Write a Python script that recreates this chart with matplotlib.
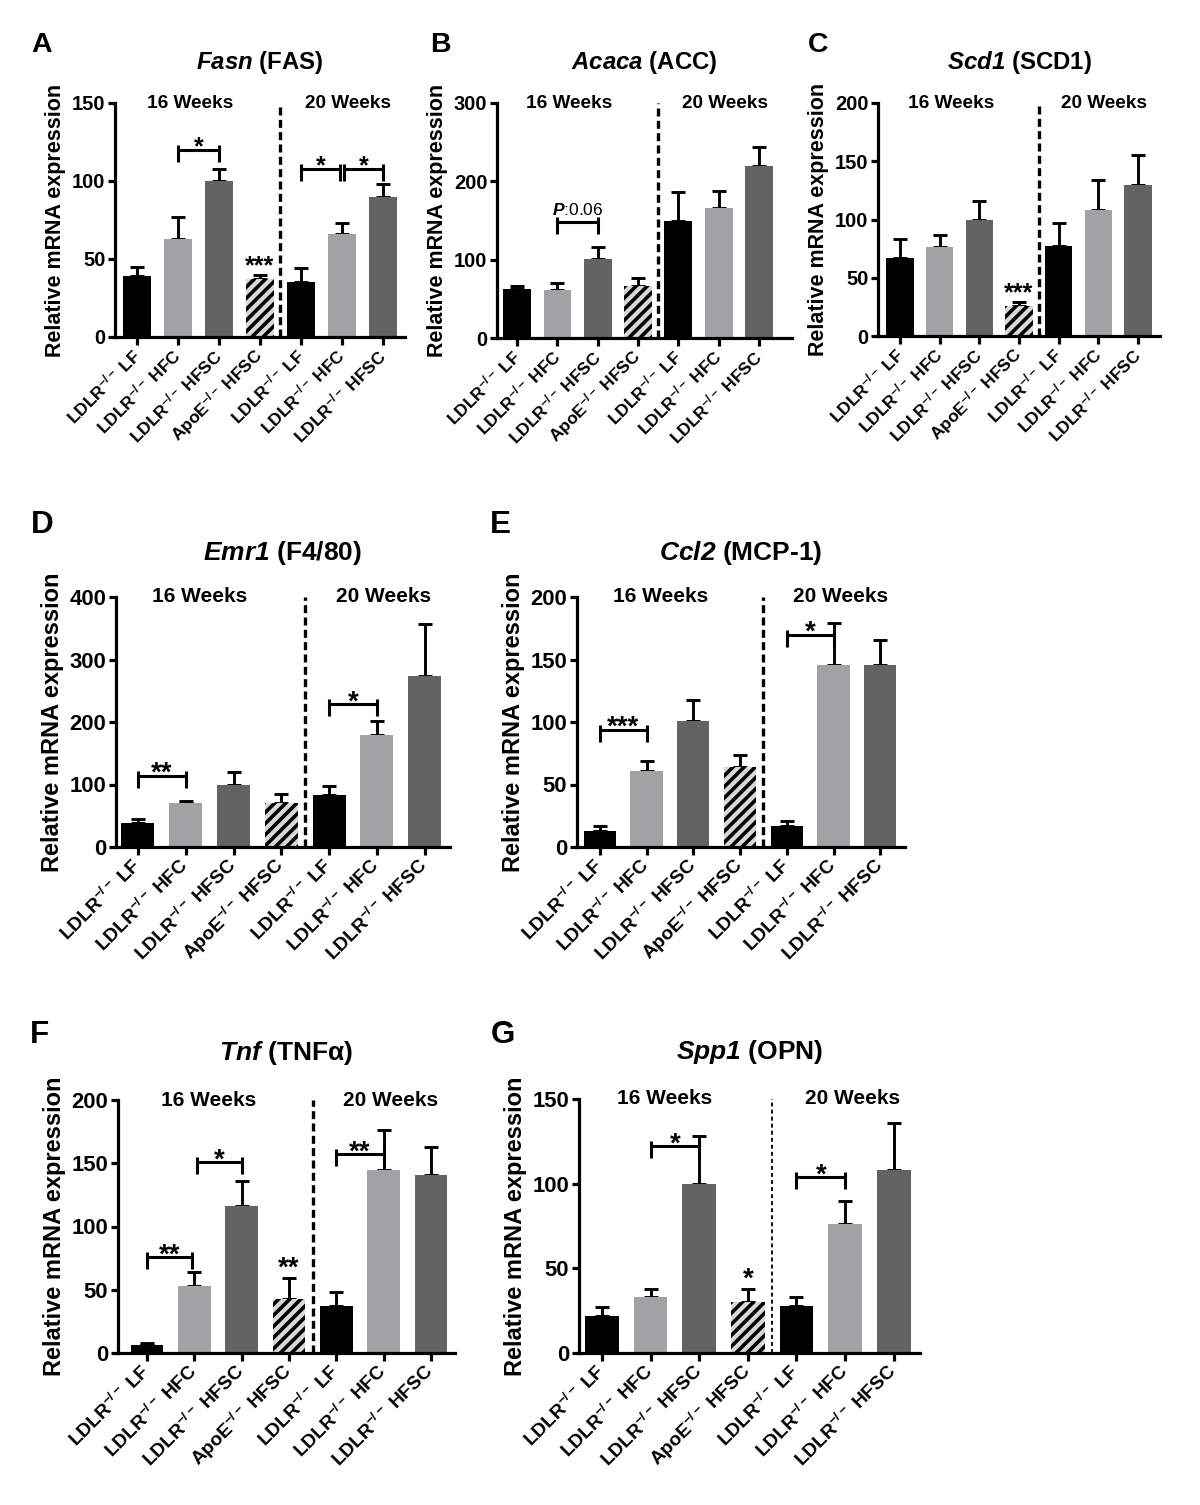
import numpy as np
import matplotlib
matplotlib.use('Agg')
import matplotlib.pyplot as plt

plt.rcParams['font.family'] = ['Liberation Sans', 'DejaVu Sans']
plt.rcParams['font.weight'] = 'bold'
plt.rcParams['mathtext.fontset'] = 'custom'
plt.rcParams['mathtext.rm'] = 'Liberation Sans'
plt.rcParams['mathtext.it'] = 'Liberation Sans:italic'
plt.rcParams['mathtext.bf'] = 'Liberation Sans:bold'
plt.rcParams['mathtext.bfit'] = 'Liberation Sans:italic:bold'
plt.rcParams['hatch.linewidth'] = 2.6
plt.rcParams['hatch.color'] = 'black'

# groups on the x axis (same for every panel)
groups = [r'LDLR$^{-/-}$ LF', r'LDLR$^{-/-}$ HFC', r'LDLR$^{-/-}$ HFSC',
          r'ApoE$^{-/-}$ HFSC', r'LDLR$^{-/-}$ LF', r'LDLR$^{-/-}$ HFC',
          r'LDLR$^{-/-}$ HFSC']
periods = ['16 Weeks', '20 Weeks']

# mean and SEM
fasn_mean = [39, 63, 100, 37, 35, 66, 90]
fasn_sem = [6, 14, 8, 2.5, 9, 7, 8]
acaca_mean = [63, 61, 101, 67, 150, 166, 220]
acaca_sem = [4, 9, 15, 9, 37, 22, 24]
scd1_mean = [67, 76, 100, 26, 77, 108, 130]
scd1_sem = [16, 11, 16, 3, 20, 26, 25]
emr1_mean = [39, 71, 100, 70, 83, 179, 273]
emr1_sem = [6, 3, 20, 15, 15, 23, 84]
ccl2_mean = [13, 61, 101, 64, 17, 146, 146]
ccl2_sem = [4, 8, 17, 10, 4, 33, 20]
tnf_mean = [6.6, 53, 116, 43, 37, 145, 141]
tnf_sem = [1.5, 11, 20, 16, 11, 31, 22]
spp1_mean = [22, 33, 100, 30, 28, 76, 108]
spp1_sem = [5, 5, 28, 8, 5, 14, 28]

# significance brackets (bar i, bar j, height, label) and marks over single bars
fasn_brackets = [(1, 2, 120, '*'), (4, 5, 108, '*'), (5, 6, 108, '*')]
fasn_marks = [(3, '***')]
acaca_brackets = [(1, 2, 148, r'$P$:0.06')]
acaca_marks = []
scd1_brackets = []
scd1_marks = [(3, '***')]
emr1_brackets = [(0, 1, 114, '**'), (4, 5, 229, '*')]
emr1_marks = []
ccl2_brackets = [(0, 1, 94, '***'), (4, 5, 170, '*')]
ccl2_marks = []
tnf_brackets = [(0, 1, 76, '**'), (1, 2, 151, '*'), (4, 5, 157, '**')]
tnf_marks = [(3, '**')]
spp1_brackets = [(1, 2, 122, '*'), (4, 5, 104, '*')]
spp1_marks = [(3, '*')]

bar_colors = ['#000000', '#a2a2a5', '#636363', '#d8d8d8', '#000000', '#a2a2a5', '#636363']

FW, FH = 1200, 1505
fig = plt.figure(figsize=(12, 15.05), dpi=100)


def draw_panel(box, xlim, letter, letter_xy, title, title_y, means, sems, ymax, ystep,
               brackets, marks, s=1.0, thin=False):
    L, T, R, B = box
    ax = fig.add_axes([L / FW, 1 - B / FH, (R - L) / FW, (B - T) / FH])
    upx = ymax / (B - T)  # data units per pixel
    x = np.arange(len(means))
    bars = ax.bar(x, means, width=0.69, color=bar_colors, linewidth=0, zorder=2)
    bars[3].set_hatch('///')
    ax.errorbar(x, means, yerr=[np.zeros(len(sems)), sems], fmt='none', ecolor='black',
                elinewidth=2.1, capsize=4.8 * s, capthick=2.1, zorder=1)

    if thin:
        ax.axvline(3.5, color='black', lw=1.3, ls=(0, (2.2, 1.7)), zorder=3)
    else:
        ax.axvline(3.5, color='black', lw=2.4, ls=(0, (2.4, 1.3)), zorder=3)

    ax.set_xlim(*xlim)
    ax.set_ylim(0, ymax)
    ax.set_yticks(np.arange(0, ymax + 1, ystep))
    ax.set_xticks(x)
    ax.set_xticklabels(groups, rotation=45, ha='right', va='center',
                       rotation_mode='anchor', fontsize=12.5 * s, fontweight='bold')
    for sp in ['top', 'right']:
        ax.spines[sp].set_visible(False)
    for sp in ['left', 'bottom']:
        ax.spines[sp].set_linewidth(2.3)
    ax.tick_params(axis='y', width=2.3, length=5, pad=2, labelsize=14.5 * s)
    ax.tick_params(axis='x', width=2.3, length=6, pad=5)
    ax.set_ylabel('Relative mRNA expression', fontsize=15.5 * s, fontweight='bold', labelpad=4)

    for lab, xp in zip(periods, [1.3, 5.15]):
        ax.text(xp, ymax, lab, ha='center', va='center', fontsize=13.7 * s, fontweight='bold')

    # brackets
    starts = [b[0] for b in brackets]
    ends = [b[1] for b in brackets]
    for i, j, y, lab in brackets:
        x0 = i + (0.05 if i in ends else 0)
        x1 = j - (0.05 if j in starts else 0)
        kw = dict(color='black', lw=2.2, solid_capstyle='butt', clip_on=False)
        ax.plot([x0, x1], [y, y], **kw)
        ax.plot([x0, x0], [y + 5 * upx, y - 12 * upx], **kw)
        ax.plot([x1, x1], [y + 5 * upx, y - 12 * upx], **kw)
        if lab.startswith('$P'):
            ax.annotate(lab, ((x0 + x1) / 2, y), xytext=(0, 3), textcoords='offset points',
                        ha='center', va='bottom', fontsize=12.5 * s, fontweight='normal')
        else:
            ax.annotate(lab, ((x0 + x1) / 2, y), xytext=(0, -3.5 * s), textcoords='offset points',
                        ha='center', va='baseline', fontsize=18 * s, fontweight='bold')
    for k, lab in marks:
        top = means[k] + sems[k]
        ax.annotate(lab, (k, top), xytext=(0, 1.5 * s), textcoords='offset points',
                    ha='center', va='baseline', fontsize=18 * s, fontweight='bold')

    fig.text((L + R) / 2 / FW, 1 - title_y / FH, title, ha='center', va='center',
             fontsize=17.3 * s, fontweight='bold')
    fig.text(letter_xy[0] / FW, 1 - letter_xy[1] / FH, letter, ha='center', va='center',
             fontsize=20.5 * s, fontweight='bold')
    return ax


draw_panel((115, 103, 405, 337), (-0.54, 6.54), 'A', (42, 45), r'$\mathbfit{Fasn}$ (FAS)', 63,
           fasn_mean, fasn_sem, 150, 50, fasn_brackets, fasn_marks)
draw_panel((497, 103, 792, 338), (-0.5, 6.82), 'B', (440, 45), r'$\mathbfit{Acaca}$ (ACC)', 63,
           acaca_mean, acaca_sem, 300, 100, acaca_brackets, acaca_marks)
draw_panel((878, 103, 1160, 336), (-0.55, 6.55), 'C', (818, 45), r'$\mathbfit{Scd1}$ (SCD1)', 63,
           scd1_mean, scd1_sem, 200, 50, scd1_brackets, scd1_marks)
draw_panel((116, 597, 450, 847), (-0.46, 6.53), 'D', (42, 525), r'$\mathbfit{Emr1}$ (F4/80)', 553,
           emr1_mean, emr1_sem, 400, 100, emr1_brackets, emr1_marks, s=1.1)
draw_panel((577, 597, 905, 847), (-0.49, 6.53), 'E', (500, 525), r'$\mathbfit{Ccl2}$ (MCP-1)', 553,
           ccl2_mean, ccl2_sem, 200, 50, ccl2_brackets, ccl2_marks, s=1.1)
draw_panel((118, 1100, 455, 1353), (-0.61, 6.51), 'F', (40, 1035), r'$\mathbfit{Tnf}$ (TNFα)', 1053,
           tnf_mean, tnf_sem, 200, 50, tnf_brackets, tnf_marks, s=1.1)
draw_panel((579, 1099, 920, 1353), (-0.47, 6.54), 'G', (503, 1035), r'$\mathbfit{Spp1}$ (OPN)', 1052,
           spp1_mean, spp1_sem, 150, 50, spp1_brackets, spp1_marks, s=1.1, thin=True)

fig.savefig('out.png', dpi=100, facecolor='white')
